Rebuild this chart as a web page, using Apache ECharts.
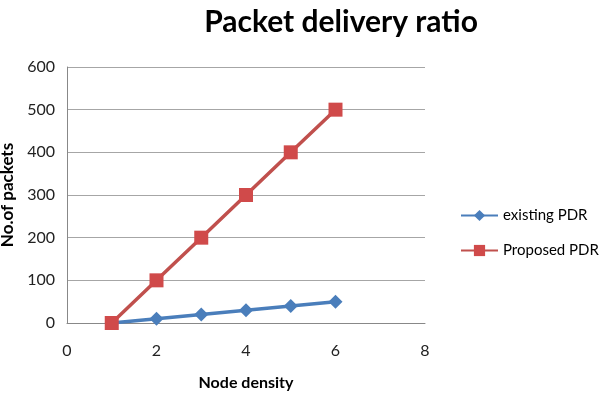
<!DOCTYPE html>
<html><head><meta charset="utf-8">
<script src="https://cdn.jsdelivr.net/npm/echarts@6/dist/echarts.min.js"></script>
<style>html,body{margin:0;padding:0;background:#fff}#c{width:600px;height:393px}</style>
</head><body><div id="c"></div>
<script>
const xValues = [1, 2, 3, 4, 5, 6];
const existingPDR = [0, 10, 20, 30, 40, 50];
const proposedPDR = [0, 100, 200, 300, 400, 500];
const seriesNames = ['existing PDR', 'Proposed PDR'];

const chart = echarts.init(document.getElementById('c'));
const font = 'Lato, "Open Sans", sans-serif';
chart.setOption({
  animation: false,
  title: { text: 'Packet delivery ratio', left: 336, top: 2, textAlign: 'center',
    textStyle: { fontFamily: font, fontWeight: 'bold', fontSize: 30, color: '#000' } },
  grid: { left: 67, right: 175, top: 67, bottom: 70, outerBoundsMode: 'none', containLabel: false },
  legend: { orient: 'vertical', left: 455, top: 203, itemGap: 20, itemWidth: 37, itemHeight: 14,
    textStyle: { fontFamily: font, fontSize: 15, color: '#000' },
    data: seriesNames },
  xAxis: { type: 'value', min: 0, max: 8, interval: 2,
    name: 'Node density', nameLocation: 'middle', nameGap: 52,
    nameTextStyle: { fontFamily: font, fontWeight: 'bold', fontSize: 16, color: '#000' },
    axisLine: { lineStyle: { color: '#888' } }, axisTick: { show: false },
    splitLine: { show: false },
    axisLabel: { fontFamily: font, fontSize: 16, color: '#222', margin: 20 } },
  yAxis: { type: 'value', min: 0, max: 600, interval: 100,
    name: 'No.of packets', nameLocation: 'middle', nameGap: 50,
    nameTextStyle: { fontFamily: font, fontWeight: 'bold', fontSize: 17, color: '#000' },
    axisLine: { show: true, lineStyle: { color: '#888' } }, axisTick: { show: false },
    splitLine: { lineStyle: { color: '#a6a6a6' } },
    axisLabel: { fontFamily: font, fontSize: 16, color: '#222', margin: 12 } },
  series: [
    { name: seriesNames[0], type: 'line', data: xValues.map((x, i) => [x, existingPDR[i]]),
      symbol: 'diamond', symbolSize: 14, itemStyle: { color: '#4a7ebb' },
      lineStyle: { width: 3.5, color: '#4a7ebb' } },
    { name: seriesNames[1], type: 'line', data: xValues.map((x, i) => [x, proposedPDR[i]]),
      symbol: 'rect', symbolSize: 14, itemStyle: { color: '#d04a4a' },
      lineStyle: { width: 3.5, color: '#c0504d' } }
  ]
});
</script></body></html>
